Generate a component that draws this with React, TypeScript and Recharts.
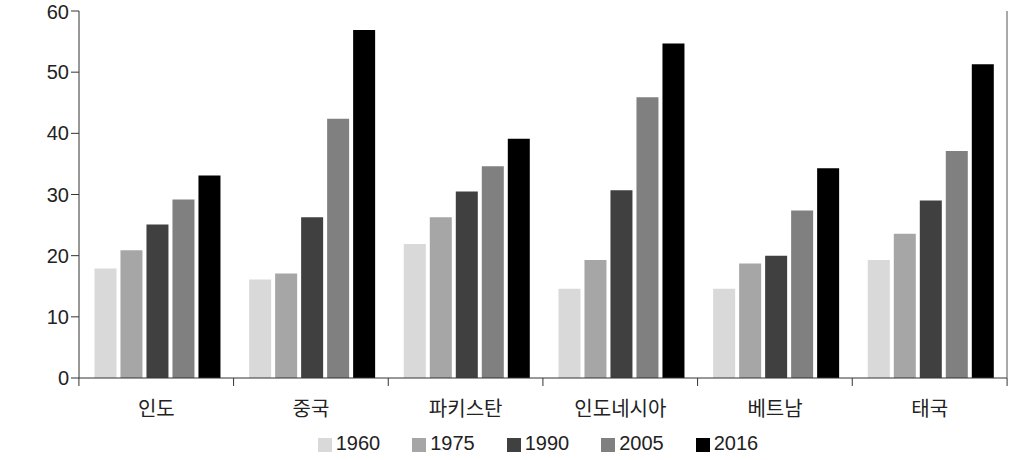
import { Bar, BarChart, Legend, XAxis, YAxis } from "recharts";

const countries = ["인도", "중국", "파키스탄", "인도네시아", "베트남", "태국"];
const years = ["1960", "1975", "1990", "2005", "2016"];
const v1960 = [17.9, 16.1, 21.9, 14.6, 14.6, 19.3];
const v1975 = [20.9, 17.1, 26.3, 19.3, 18.7, 23.6];
const v1990 = [25.1, 26.3, 30.5, 30.7, 20.0, 29.0];
const v2005 = [29.2, 42.4, 34.6, 45.9, 27.4, 37.1];
const v2016 = [33.1, 56.9, 39.1, 54.7, 34.3, 51.3];
const yTicks = [0, 10, 20, 30, 40, 50, 60];

const colors = ["#d9d9d9", "#a6a6a6", "#404040", "#808080", "#000000"];
const series = [v1960, v1975, v1990, v2005, v2016];

const data = countries.map((name, i) => {
  const row: Record<string, string | number> = { name };
  years.forEach((y, k) => {
    row[y] = series[k][i];
  });
  return row;
});

const W = 1024;
const H = 460;
const margin = { top: 11, right: 16, left: 0, bottom: 5 };
const yWidth = 79;
const band = (W - margin.left - margin.right - yWidth) / countries.length;
const krFont = "'Noto Sans CJK KR', sans-serif";
const numFont = "'Liberation Sans', Arial, sans-serif";

function CategoryTick(props: any) {
  const { x, y, payload, index } = props;
  const last = index === countries.length - 1;
  return (
    <g>
      <line x1={x - band / 2} x2={x - band / 2} y1={y - 8} y2={y} stroke="#333" />
      {last && (
        <line x1={x + band / 2} x2={x + band / 2} y1={y - 8} y2={y} stroke="#333" />
      )}
      <text x={x} y={y + 30} textAnchor="middle" fill="#222" fontSize={20} fontFamily={krFont}>
        {payload.value}
      </text>
    </g>
  );
}

export default function App() {
  return (
    <div style={{ position: "absolute", left: 0, top: 0, width: W, height: H, background: "#fff" }}>
      <BarChart
        width={W}
        height={H}
        data={data}
        margin={margin}
        barCategoryGap="10%"
        barGap={4}
      >
        <XAxis
          dataKey="name"
          tick={<CategoryTick />}
          tickLine={false}
          axisLine={{ stroke: "#333" }}
          height={54}
          interval={0}
        />
        <YAxis
          yAxisId="l"
          domain={[0, 60]}
          ticks={yTicks}
          width={yWidth}
          axisLine={{ stroke: "#333" }}
          tickLine={{ stroke: "#333" }}
          tickSize={8}
          tick={{ fill: "#222", fontSize: 20, fontFamily: numFont }}
        />
        <YAxis
          yAxisId="r"
          orientation="right"
          domain={[0, 60]}
          width={1}
          tick={false}
          tickLine={false}
          axisLine={{ stroke: "#555" }}
        />
        <Legend
          verticalAlign="bottom"
          iconType="square"
          iconSize={14}
          wrapperStyle={{ fontFamily: numFont, fontSize: 20, color: "#222", left: 90, width: 928 }}
          formatter={(value: string) => <span style={{ color: "#222", marginRight: 22 }}>{value}</span>}
        />
        {years.map((y, k) => (
          <Bar
            key={y}
            yAxisId="l"
            dataKey={y}
            fill={colors[k]}
            isAnimationActive={false}
          />
        ))}
      </BarChart>
    </div>
  );
}
